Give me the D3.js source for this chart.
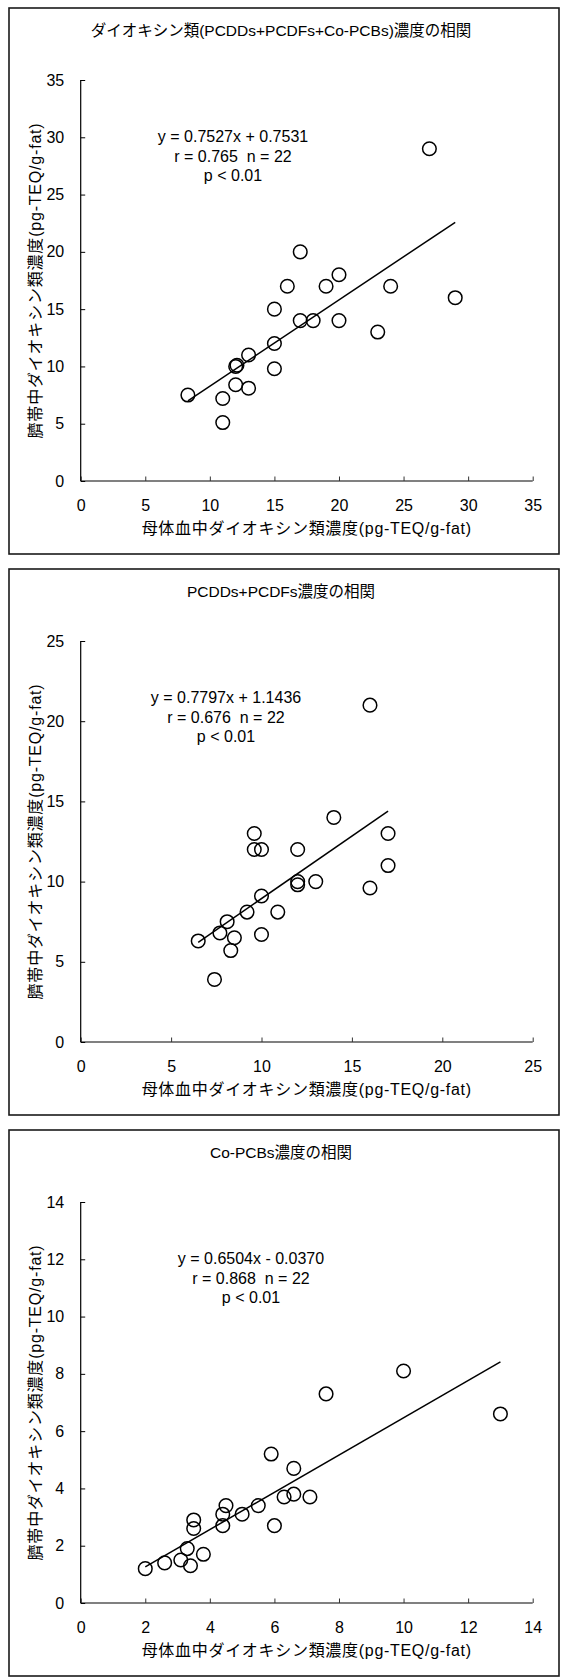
<!DOCTYPE html>
<html>
<head>
<meta charset="utf-8">
<script src="https://cdn.jsdelivr.net/npm/d3@7/dist/d3.min.js"></script>
<style>
  html, body { margin: 0; padding: 0; background: #fff; }
  svg { display: block; }
  text { font-family: "Liberation Sans", Arial, "Noto Sans CJK JP", sans-serif; fill: #000; }
</style>
</head>
<body>
<svg id="chart" width="561" height="1678"></svg>
<script>
// ---- data ----
// Total dioxins (PCDDs+PCDFs+Co-PCBs), pg-TEQ/g-fat
const totalMaternal = [8.3, 11, 11, 12, 12.1, 12, 13, 13, 15, 15, 15, 16, 17, 17, 18, 19, 20, 20, 23, 24, 27, 29];
const totalCord     = [7.5, 7.2, 5.1, 10, 10.1, 8.4, 11, 8.1, 15, 12, 9.8, 17, 20, 14, 14, 17, 18, 14, 13, 17, 29, 16];

// PCDDs+PCDFs
const pcddMaternal = [6.5, 7.4, 7.7, 8.1, 8.3, 8.5, 9.2, 10, 10, 10.9, 9.6, 9.6, 10, 12, 12, 12, 13, 14, 16, 16, 17, 17];
const pcddCord     = [6.3, 3.9, 6.8, 7.5, 5.7, 6.5, 8.1, 9.1, 6.7, 8.1, 13, 12, 12, 12, 10, 9.8, 10, 14, 21, 9.6, 13, 11];

// Co-PCBs
const pcbMaternal = [2.0, 2.6, 3.1, 3.3, 3.4, 3.5, 3.5, 3.8, 4.4, 4.5, 4.4, 5.0, 5.5, 5.9, 6.0, 6.3, 6.6, 6.6, 7.1, 7.6, 10, 13];
const pcbCord     = [1.2, 1.4, 1.5, 1.9, 1.3, 2.9, 2.6, 1.7, 3.1, 3.4, 2.7, 3.1, 3.4, 5.2, 2.7, 3.7, 3.8, 4.7, 3.7, 7.3, 8.1, 6.6];

const panelTitles = [
  "ダイオキシン類(PCDDs+PCDFs+Co-PCBs)濃度の相関",
  "PCDDs+PCDFs濃度の相関",
  "Co-PCBs濃度の相関"
];
const axisMax   = [35, 25, 14];
const tickSteps = [5, 5, 2];
const slopes     = [0.7527, 0.7797, 0.6504];
const intercepts = [0.7531, 1.1436, -0.0370];
const equationLines = [
  ["y = 0.7527x + 0.7531", "r = 0.765  n = 22", "p < 0.01"],
  ["y = 0.7797x + 1.1436", "r = 0.676  n = 22", "p < 0.01"],
  ["y = 0.6504x - 0.0370", "r = 0.868  n = 22", "p < 0.01"]
];
const xAxisTitle = "母体血中ダイオキシン類濃度(pg-TEQ/g-fat)";
const yAxisTitle = "臍帯中ダイオキシン類濃度(pg-TEQ/g-fat)";

const panels = [
  { xs: totalMaternal, ys: totalCord, eqX: 233 },
  { xs: pcddMaternal,  ys: pcddCord,  eqX: 226 },
  { xs: pcbMaternal,   ys: pcbCord,   eqX: 251 }
];

// ---- layout ----
const svg = d3.select("#chart");
const panelStep = 561;
const firstTop = 8;
const boxLeft = 9, boxWidth = 550, boxHeight = 546;
const plotLeft = 80.7, plotRight = 532.7;
const plotTopOff = 72, plotBottomOff = 473;
const tickLen = 4.5;

panels.forEach((p, i) => {
  const top = firstTop + i * panelStep;
  const g = svg.append("g");

  // frame
  g.append("rect")
    .attr("x", boxLeft).attr("y", top)
    .attr("width", boxWidth).attr("height", boxHeight)
    .attr("fill", "none").attr("stroke", "#1a1a1a").attr("stroke-width", 1.6);

  // title
  g.append("text")
    .attr("x", 281).attr("y", top + 28)
    .attr("text-anchor", "middle")
    .attr("font-size", 15.5)
    .text(panelTitles[i]);

  const x = d3.scaleLinear().domain([0, axisMax[i]]).range([plotLeft, plotRight]);
  const y = d3.scaleLinear().domain([0, axisMax[i]]).range([top + plotBottomOff, top + plotTopOff]);
  const ticks = d3.range(0, axisMax[i] + 0.001, tickSteps[i]);

  // x axis (ticks point inward)
  const xAxis = g.append("g")
    .attr("transform", `translate(0,${y(0)})`)
    .call(d3.axisBottom(x).tickValues(ticks).tickSize(-tickLen).tickPadding(14 + tickLen));
  xAxis.select(".domain").attr("stroke", "#808080").attr("stroke-width", 2)
    .attr("d", `M${x(0)},0H${x(axisMax[i])}`);
  xAxis.selectAll(".tick line").attr("stroke", "#333").attr("stroke-width", 1);
  xAxis.selectAll(".tick text")
    .attr("font-size", 16).attr("font-family", null).attr("fill", "#000");

  // y axis
  const yAxis = g.append("g")
    .attr("transform", `translate(${x(0)},0)`)
    .call(d3.axisLeft(y).tickValues(ticks).tickSize(-tickLen).tickPadding(12 + tickLen));
  yAxis.select(".domain").attr("stroke", "#000").attr("stroke-width", 1.2)
    .attr("d", `M0,${y(0)}V${y(axisMax[i])}`);
  yAxis.selectAll(".tick line").attr("stroke", "#000").attr("stroke-width", 1);
  yAxis.selectAll(".tick text")
    .attr("font-size", 16).attr("font-family", null).attr("fill", "#000");

  // axis titles
  g.append("text")
    .attr("x", (plotLeft + plotRight) / 2).attr("y", top + 526)
    .attr("text-anchor", "middle").attr("font-size", 16)
    .style("letter-spacing", "0.7px")
    .text(xAxisTitle);
  g.append("text")
    .attr("transform", `translate(41,${top + (plotTopOff + plotBottomOff) / 2}) rotate(-90)`)
    .attr("text-anchor", "middle").attr("font-size", 16)
    .style("letter-spacing", "0.8px")
    .text(yAxisTitle);

  // regression line over the observed x range
  const [xmin, xmax] = d3.extent(p.xs);
  g.append("line")
    .attr("x1", x(xmin)).attr("y1", y(slopes[i] * xmin + intercepts[i]))
    .attr("x2", x(xmax)).attr("y2", y(slopes[i] * xmax + intercepts[i]))
    .attr("stroke", "#000").attr("stroke-width", 1.5);

  // points
  g.append("g").selectAll("circle")
    .data(p.xs.map((v, k) => [v, p.ys[k]]))
    .join("circle")
    .attr("cx", d => x(d[0])).attr("cy", d => y(d[1]))
    .attr("r", 6.8)
    .attr("fill", "none").attr("stroke", "#000").attr("stroke-width", 1.5);

  // regression statistics
  g.append("g").selectAll("text")
    .data(equationLines[i])
    .join("text")
    .attr("x", p.eqX)
    .attr("y", (d, k) => top + 134 + k * 19.5)
    .attr("text-anchor", "middle").attr("font-size", 16)
    .style("white-space", "pre")
    .text(d => d);
});
</script>
</body>
</html>
